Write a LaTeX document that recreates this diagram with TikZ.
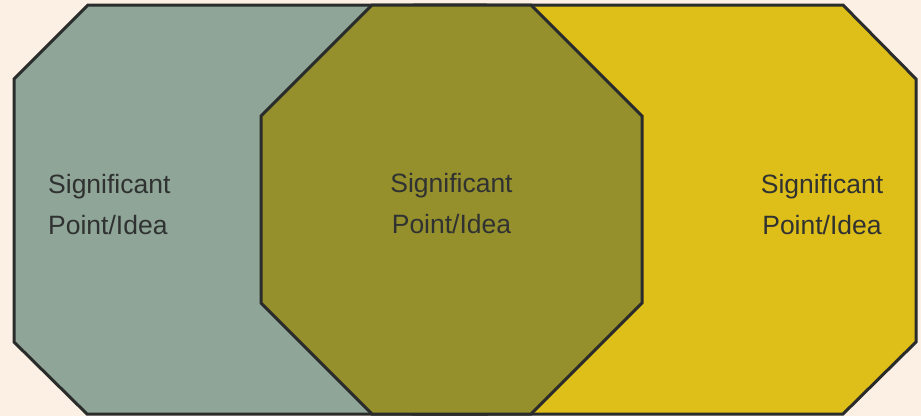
\documentclass[tikz,border=0pt]{standalone}
\usepackage{fontspec}
\setmainfont{Liberation Sans}
\definecolor{paper}{HTML}{FCF0E4}
\definecolor{sage}{HTML}{8EA597}
\definecolor{olive}{HTML}{958F2C}
\definecolor{mustard}{HTML}{DEBE19}
\definecolor{edge}{HTML}{2A2C2C}
\definecolor{ink}{HTML}{303232}
\tikzset{
  octa/.style={draw=edge, line width=3pt, line join=miter},
  idea/.style={text=ink, inner sep=0pt, font=\fontsize{26.5}{41}\selectfont}
}
\begin{document}
\begin{tikzpicture}[x=1pt, y=-1pt]
    \fill[paper] (0,0) rectangle (921,416);
    \useasboundingbox (0,0) rectangle (921,416);
    % outer octagons
    \draw[octa, fill=sage] (88,5) -- (486,5) -- (560,79) -- (560,342) -- (487,414) -- (87,414) -- (14,342) -- (14,79) -- cycle;
    \draw[octa, fill=mustard] (414,5) -- (843,5) -- (916,79) -- (916,342) -- (843,414) -- (413,414) -- (340,342) -- (340,79) -- cycle;
    % middle octagon on top
    \draw[octa, fill=olive] (372,5) -- (531,5) -- (642,116) -- (642,303) -- (531,414) -- (372,414) -- (261,303) -- (261,116) -- cycle;

    \node[idea, anchor=base west, align=left] (leftidea) at (48,234) {Significant\\Point/Idea};
    \node[idea, anchor=base, align=center] (mididea) at (451.5,233) {Significant\\Point/Idea};
    \node[idea, anchor=base, align=center] (rightidea) at (822,234) {Significant\\Point/Idea};
\end{tikzpicture}
\end{document}
